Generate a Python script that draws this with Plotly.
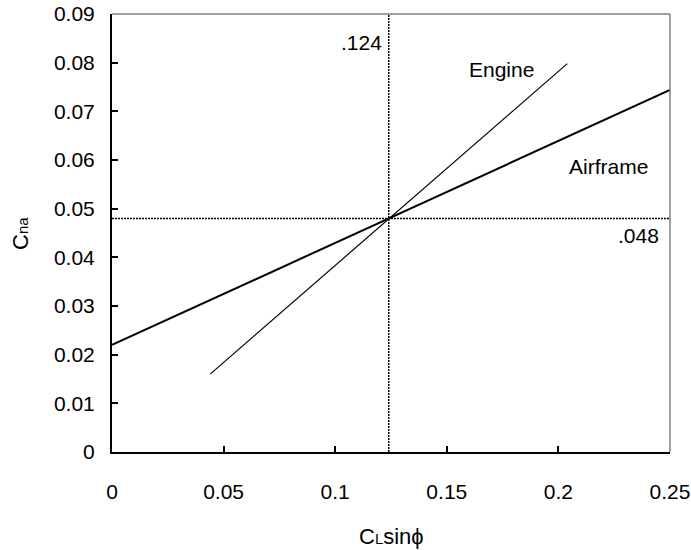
import plotly.graph_objects as go

# datos
airframe_x = [0.0, 0.25]
airframe_y = [0.022, 0.0744]
engine_x = [0.044, 0.204]
engine_y = [0.016, 0.0798]
ref_x = 0.124
ref_y = 0.048
x_ticks = [0, 0.05, 0.1, 0.15, 0.2, 0.25]
x_labels = ["0", "0.05", "0.1", "0.15", "0.2", "0.25"]
y_ticks = [0, 0.01, 0.02, 0.03, 0.04, 0.05, 0.06, 0.07, 0.08, 0.09]
y_labels = ["0", "0.01", "0.02", "0.03", "0.04", "0.05", "0.06", "0.07", "0.08", "0.09"]

fig = go.Figure()

# lineas de referencia punteadas
fig.add_trace(go.Scatter(x=[ref_x, ref_x], y=[0, 0.09], mode="lines",
                         line=dict(color="black", width=1.5, dash="2px,1px"), hoverinfo="skip"))
fig.add_trace(go.Scatter(x=[0, 0.25], y=[ref_y, ref_y], mode="lines",
                         line=dict(color="black", width=1.5, dash="2px,1px"), hoverinfo="skip"))

fig.add_trace(go.Scatter(x=airframe_x, y=airframe_y, mode="lines", name="Airframe",
                         line=dict(color="black", width=2)))
fig.add_trace(go.Scatter(x=engine_x, y=engine_y, mode="lines", name="Engine",
                         line=dict(color="black", width=1.2)))

# marco gris arriba y a la derecha
fig.add_shape(type="line", xref="paper", yref="paper", x0=0, x1=1, y0=1, y1=1,
              line=dict(color="#808080", width=1.5))
fig.add_shape(type="line", xref="paper", yref="paper", x0=1, x1=1, y0=0, y1=1,
              line=dict(color="#808080", width=1.5))

font_txt = dict(family="Liberation Sans, Arial", size=21, color="black")
fig.add_annotation(x=ref_x, y=0.0842, text=".124", showarrow=False, xanchor="right",
                   xshift=-5, font=font_txt)
fig.add_annotation(x=0.1745, y=0.0785, text="Engine", showarrow=False, font=font_txt)
fig.add_annotation(x=0.2226, y=0.0586, text="Airframe", showarrow=False, font=font_txt)
fig.add_annotation(x=0.2357, y=0.0445, text=".048", showarrow=False, font=font_txt)

# titulos de ejes (subindice pequeño sobre la linea base)
fig.add_annotation(xref="paper", yref="paper", x=0.5, y=-0.194, yanchor="middle", showarrow=False,
                   text="C<span style='font-size:15px'>L</span>sinϕ",
                   font=dict(family="Liberation Sans, Arial", size=22))
fig.add_annotation(xref="paper", yref="paper", x=-0.165, y=0.5, xanchor="center", showarrow=False,
                   textangle=-90, text="C<span style='font-size:15px'>na</span>",
                   font=dict(family="Liberation Sans, Arial", size=22))

fig.update_layout(
    width=691, height=550,
    margin=dict(l=112, r=21, t=14, b=98),
    paper_bgcolor="white", plot_bgcolor="white",
    showlegend=False,
    font=font_txt,
    xaxis=dict(range=[0, 0.25], tickvals=x_ticks, ticktext=x_labels, automargin=False,
               showgrid=False, zeroline=False, showline=True, linecolor="black", linewidth=2,
               ticks="inside", ticklen=6, tickwidth=2, tickcolor="black",
               ticklabelstandoff=20, tickfont=font_txt),
    yaxis=dict(range=[0, 0.09], tickvals=y_ticks, ticktext=y_labels, automargin=False,
               showgrid=False, zeroline=False, showline=True, linecolor="black", linewidth=2,
               ticks="inside", ticklen=6, tickwidth=2, tickcolor="black",
               ticklabelstandoff=11, tickfont=font_txt),
)

fig.write_html("out.html", config={"displayModeBar": False},
               post_script="document.body.style.margin='0';")
